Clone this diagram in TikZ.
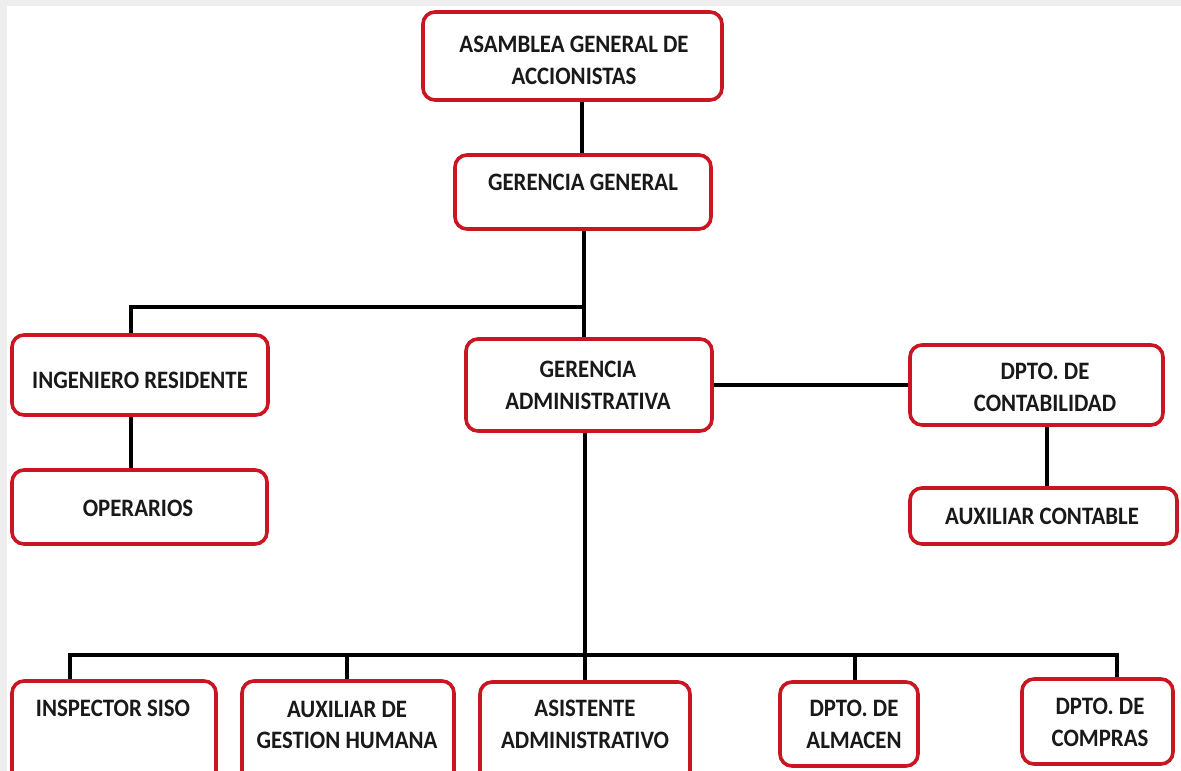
\documentclass[tikz,border=0pt]{standalone}
\usepackage{fontspec}
\setmainfont{Carlito}
\definecolor{boxred}{RGB}{200,22,34}
\definecolor{edgegray}{RGB}{238,238,238}
\tikzset{
  box/.style={draw=boxred, line width=3.6pt, rounded corners=12pt, fill=white, inner sep=0pt},
  txt/.style={font=\bfseries\fontsize{22.8}{29}\selectfont, align=center, inner sep=0pt, text=black!90, yscale=1.1},
  wire/.style={draw=black, line width=4pt}
}
\newcommand{\bx}[5]{\node[box, minimum width={(#4-#3-4)*1pt}, minimum height={(#5-#2-4)*1pt}] (#1) at ({(#3+#4)/2},{-(#2+#5)/2}) {};}
\begin{document}
\begin{tikzpicture}[x=1pt,y=1pt]
\useasboundingbox (0,0) rectangle (1181,-771);
\clip (0,0) rectangle (1181,-771);
\fill[white] (0,0) rectangle (1181,-771);
\fill[edgegray] (0,0) rectangle (1181,-6);
\fill[edgegray] (0,0) rectangle (7,-771);
% coordinates for connectors
\coordinate (top) at (582,0);
\coordinate (mid) at (584,-307);
\coordinate (jl) at (131,-307);
\coordinate (jc) at (1047,0);
\coordinate (bus) at (585,-655);
\coordinate (d1) at (70,-655);
\coordinate (d2) at (347,-655);
\coordinate (d4) at (855,-655);
\coordinate (d5) at (1117,-655);
% boxes: name, y1, x1, x2, y2
\bx{asam}{10}{421}{724}{102}
\bx{gg}{153}{453}{713}{231}
\bx{ir}{333}{10}{270}{417}
\bx{op}{468}{10}{269}{546}
\bx{ga}{337}{464}{714}{433}
\bx{dc}{343}{908}{1165}{427}
\bx{ac}{486}{908}{1179}{546}
\bx{iso}{679}{10}{218}{790}
\bx{agh}{679}{240}{456}{790}
\bx{asis}{680}{478}{692}{790}
\bx{alm}{680}{778}{920}{768}
\bx{comp}{677}{1020}{1175}{766}
% connectors
\draw[wire] (top |- asam.south) -- (top |- gg.north);
\draw[wire] (mid |- gg.south) -- (mid |- ga.north);
\draw[wire] (mid) -- (jl) -- (jl |- ir.north);
\draw[wire] (jl |- ir.south) -- (jl |- op.north);
\draw[wire] (ga.east) -- (dc.west);
\draw[wire] (jc |- dc.south) -- (jc |- ac.north);
\draw[wire] (bus |- ga.south) -- (bus |- asis.north);
\draw[wire, line join=miter] (d1 |- iso.north) -- (d1) -- (d5) -- (d5 |- comp.north);
\draw[wire] (d2) -- (d2 |- agh.north);
\draw[wire] (d4) -- (d4 |- alm.north);
% texts
\node[txt] (t-asam) at (574,-60) {ASAMBLEA GENERAL DE\\ACCIONISTAS};
\node[txt] (t-gg) at (583,-182) {GERENCIA GENERAL};
\node[txt] (t-ir) at (140,-380) {INGENIERO RESIDENTE};
\node[txt] (t-op) at (138,-508) {OPERARIOS};
\node[txt] (t-ga) at (588,-385) {GERENCIA\\ADMINISTRATIVA};
\node[txt] (t-dc) at (1045,-387) {DPTO. DE\\CONTABILIDAD};
\node[txt] (t-ac) at (1042,-516) {AUXILIAR CONTABLE};
\node[txt] (t-iso) at (113,-708) {INSPECTOR SISO};
\node[txt] (t-agh) at (347,-725) {AUXILIAR DE\\GESTION HUMANA};
\node[txt] (t-asis) at (585,-724) {ASISTENTE\\ADMINISTRATIVO};
\node[txt] (t-alm) at (854,-724) {DPTO. DE\\ALMACEN};
\node[txt] (t-comp) at (1100,-722) {DPTO. DE\\COMPRAS};
\end{tikzpicture}
\end{document}
